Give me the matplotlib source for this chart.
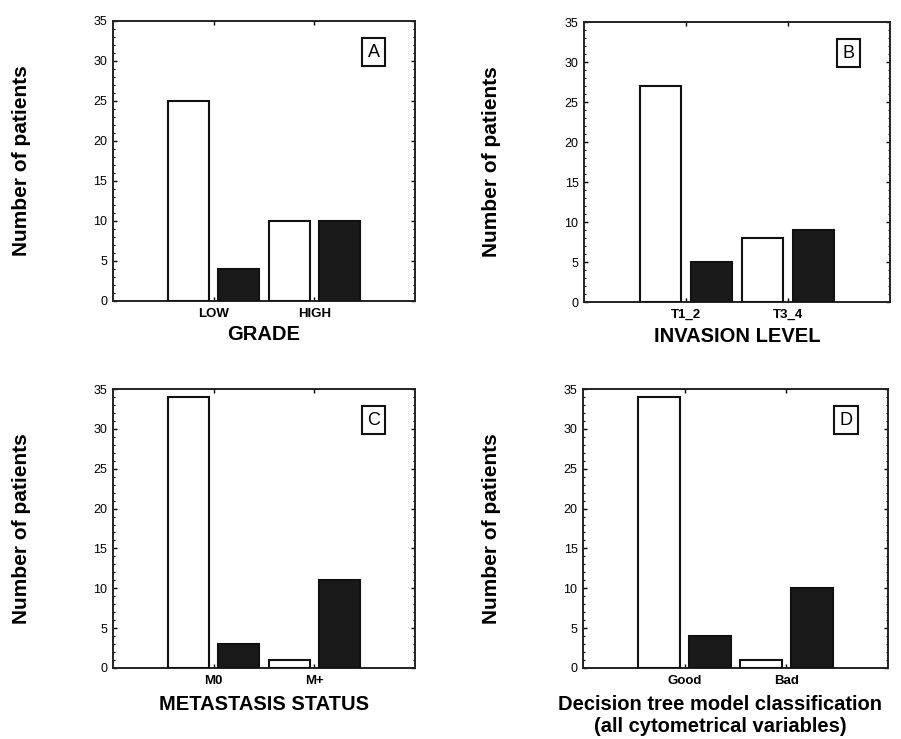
import matplotlib.pyplot as plt
import numpy as np
from matplotlib.ticker import MultipleLocator

plt.rcParams['font.family'] = ['Liberation Sans', 'DejaVu Sans']

# data for the four panels
panel_letters = ['A', 'B', 'C', 'D']
grade_cats = ['LOW', 'HIGH']
grade_white = [25, 10]
grade_black = [4, 10]
invasion_cats = ['T1_2', 'T3_4']
invasion_white = [27, 8]
invasion_black = [5, 9]
metastasis_cats = ['M0', 'M+']
metastasis_white = [34, 1]
metastasis_black = [3, 11]
tree_cats = ['Good', 'Bad']
tree_white = [34, 1]
tree_black = [4, 10]
xlabels = ['GRADE', 'INVASION LEVEL', 'METASTASIS STATUS',
           'Decision tree model classification\n(all cytometrical variables)']

panels = [
    (grade_cats, grade_white, grade_black),
    (invasion_cats, invasion_white, invasion_black),
    (metastasis_cats, metastasis_white, metastasis_black),
    (tree_cats, tree_white, tree_black),
]

# axes rectangles in figure fractions
rects = [
    [0.1254, 0.5927, 0.3352, 0.3789],
    [0.6482, 0.5913, 0.3396, 0.3789],
    [0.1254, 0.0961, 0.3352, 0.3775],
    [0.6471, 0.0961, 0.3385, 0.3775],
]
label_pads = [4, 4, 6, 6]
xlabel_x = [0.5, 0.5, 0.5, 0.45]

fig = plt.figure(figsize=(9.01, 7.39), dpi=100)

for i in range(4):
    cats, white, black = panels[i]
    ax = fig.add_axes(rects[i])
    x = np.arange(1, len(cats) + 1)
    w = 0.41
    ax.bar(x - 0.25, white, w, color='white', edgecolor='#111111', linewidth=1.5, zorder=3)
    ax.bar(x + 0.25, black, w, color='#1a1a1a', edgecolor='#111111', linewidth=1.5, zorder=3)
    ax.set_xlim(0, 3)
    ax.set_ylim(0, 35)
    ax.set_xticks(x)
    ax.set_xticklabels(cats, fontsize=9.5, fontweight='semibold')
    ax.yaxis.set_major_locator(MultipleLocator(5))
    ax.yaxis.set_minor_locator(MultipleLocator(1))
    ax.tick_params(axis='both', which='major', direction='in', length=3, width=1,
                   top=True, right=True, pad=4)
    ax.tick_params(axis='y', which='major', labelsize=9)
    ax.tick_params(axis='x', which='major', pad=5)
    ax.tick_params(axis='y', which='minor', direction='in', length=1.5, width=0.8,
                   left=True, right=True)
    for sp in ax.spines.values():
        sp.set_linewidth(1.4)
        sp.set_color('#222222')
    ax.set_ylabel('Number of patients', fontsize=15, fontweight='bold')
    ax.yaxis.set_label_coords(-0.27, 0.5)
    ax.set_xlabel(xlabels[i], fontsize=14.5, fontweight='bold',
                  labelpad=label_pads[i], linespacing=1.15)
    ax.xaxis.label.set_x(xlabel_x[i])
    ax.text(0.863, 0.888, panel_letters[i], transform=ax.transAxes, fontsize=13,
            ha='center', va='center',
            bbox=dict(boxstyle='square,pad=0.3', facecolor='white',
                      edgecolor='#111111', linewidth=1.5))

fig.savefig('out.png', dpi=100)
